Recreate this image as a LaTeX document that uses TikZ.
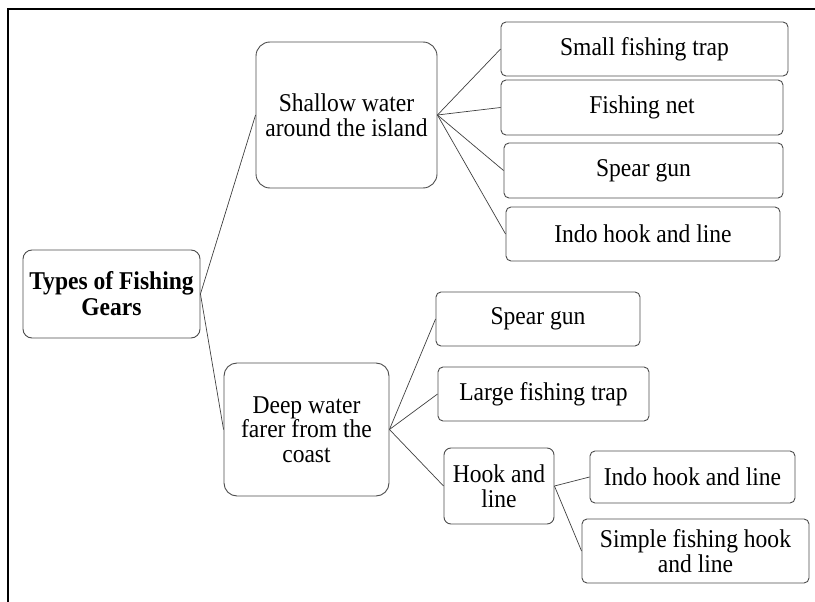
\documentclass[tikz,border=0pt]{standalone}
\usepackage{fontspec}
\setmainfont{Liberation Serif}[FakeStretch=0.92]
\begin{document}
\begin{tikzpicture}[x=1pt,y=-1pt,
	gear/.style={draw=black!70, line width=0.9pt, rounded corners=#1, align=center,
		inner sep=0pt, font=\fontsize{25.6}{24.5}\selectfont},
	gear/.default=5pt,
	link/.style={draw=black!75, line width=0.7pt}]
	\useasboundingbox (0,0) rectangle (815,602);
	\draw [line width=1.6pt] (8,602) -- (8,9) -- (815,9);

	\node [gear=9pt, minimum width=177pt, minimum height=88pt,
		font=\fontsize{25.6}{26}\selectfont\bfseries] (1) at (111.5,294) {Types of Fishing\\Gears};
	\node [gear=14pt, minimum width=181pt, minimum height=146pt] (2) at (346.5,115) {Shallow water\\around the island};
	\node [gear=13pt, minimum width=165pt, minimum height=133pt] (3) at (306.5,429.5) {Deep water\\farer from the\\coast};

	\node [gear, minimum width=287pt, minimum height=54pt] (4) at (644.5,49) {Small fishing trap};
	\node [gear, minimum width=282pt, minimum height=55pt] (5) at (642,107.5) {Fishing net};
	\node [gear, minimum width=279pt, minimum height=55pt] (6) at (643.5,170.5) {Spear gun};
	\node [gear, minimum width=274pt, minimum height=54pt] (7) at (643,234) {Indo hook and line};

	\node [gear, minimum width=204pt, minimum height=54pt] (8) at (538,319) {Spear gun};
	\node [gear, minimum width=211pt, minimum height=54pt] (9) at (543.5,394) {Large fishing trap};
	\node [gear=7pt, minimum width=110pt, minimum height=76pt] (10) at (499,486) {Hook and\\line};
	\node [gear, minimum width=205pt, minimum height=52pt] (11) at (692.5,477) {Indo hook and line};
	\node [gear, minimum width=227pt, minimum height=64pt] (12) at (695.5,551) {Simple fishing hook\\and line};


	\path [link] (1.east) edge (2.west);
	\path [link] (1.east) edge (3.west);
	\path [link] (2.east) edge (4.west);
	\path [link] (2.east) edge (5.west);
	\path [link] (2.east) edge (6.west);
	\path [link] (2.east) edge (7.west);
	\path [link] (3.east) edge (8.west);
	\path [link] (3.east) edge (9.west);
	\path [link] (3.east) edge (10.west);
	\path [link] (10.east) edge (11.west);
	\path [link] (10.east) edge (12.west);
\end{tikzpicture}
\end{document}
